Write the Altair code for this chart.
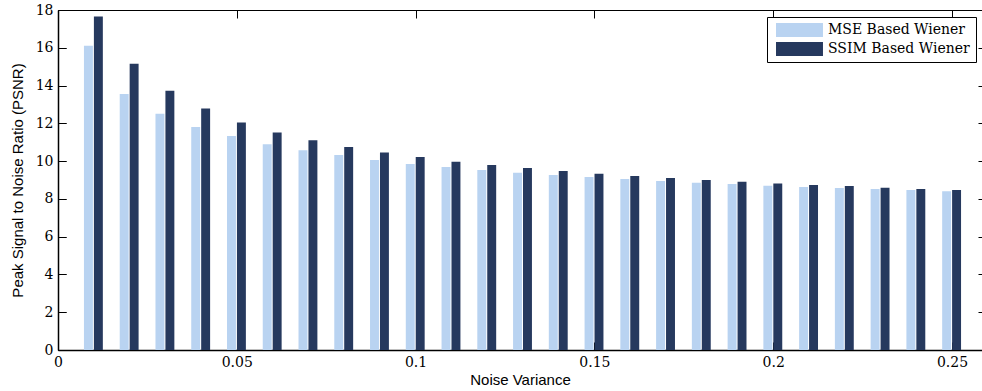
import altair as alt
import pandas as pd

noise_variance = [0.01, 0.02, 0.03, 0.04, 0.05, 0.06, 0.07, 0.08, 0.09, 0.10,
                  0.11, 0.12, 0.13, 0.14, 0.15, 0.16, 0.17, 0.18, 0.19, 0.20,
                  0.21, 0.22, 0.23, 0.24, 0.25]
mse_psnr = [16.11, 13.55, 12.51, 11.81, 11.33, 10.89, 10.57, 10.32, 10.06, 9.85,
            9.69, 9.53, 9.39, 9.26, 9.16, 9.05, 8.95, 8.86, 8.79, 8.70,
            8.63, 8.58, 8.52, 8.47, 8.40]
ssim_psnr = [17.66, 15.16, 13.73, 12.78, 12.05, 11.52, 11.10, 10.75, 10.45, 10.22,
             9.97, 9.79, 9.63, 9.48, 9.33, 9.21, 9.11, 9.00, 8.91, 8.82,
             8.73, 8.68, 8.59, 8.52, 8.47]
series_names = ["MSE Based Wiener", "SSIM Based Wiener"]
series_colors = ["#B9D3F1", "#26395E"]
x_ticks = [0, 0.05, 0.1, 0.15, 0.2, 0.25]
y_ticks = [0, 2, 4, 6, 8, 10, 12, 14, 16, 18]

rows = []
for nv, a, b in zip(noise_variance, mse_psnr, ssim_psnr):
    rows.append({"nv": nv, "psnr": a, "series": series_names[0]})
    rows.append({"nv": nv, "psnr": b, "series": series_names[1]})
df = pd.DataFrame(rows)

XMAX = 0.2584
W, H = 924, 340
SERIF = "DejaVu Serif"
SANS = "Liberation Sans"

xscale = alt.Scale(domain=[0, XMAX], nice=False, zero=False, padding=0)
yscale = alt.Scale(domain=[0, 18], nice=False, padding=0)

base = alt.Chart(df)

bars = base.transform_calculate(
    x0=f"datum.nv + (datum.series == '{series_names[0]}' ? -0.00274 : 0.00004)",
    x1="datum.x0 + 0.00250",
).mark_bar(clip=True, orient="vertical").encode(
    x=alt.X("x0:Q", scale=xscale,
            axis=alt.Axis(values=x_ticks, format="~g", ticks=False, grid=False,
                          domain=True, domainColor="black", domainWidth=1.5,
                          labelFont=SERIF, labelFontSize=14, labelColor="black",
                          labelPadding=5, labelFlush=False, title="Noise Variance",
                          titleFont=SANS, titleFontSize=15, titleFontWeight="normal",
                          titleColor="black", titlePadding=3, orient="bottom")),
    x2="x1:Q",
    y=alt.Y("psnr:Q", scale=yscale,
            axis=alt.Axis(values=y_ticks, ticks=False, grid=False,
                          domain=True, domainColor="black", domainWidth=1.5,
                          labelFont=SERIF, labelFontSize=14, labelColor="black",
                          labelPadding=5, labelFlush=False,
                          title="Peak Signal to Noise Ratio (PSNR)",
                          titleFont=SANS, titleFontSize=15, titleFontWeight="normal",
                          titleColor="black", titlePadding=10, orient="left")),
    y2=alt.datum(0),
    color=alt.Color("series:N",
                    scale=alt.Scale(domain=series_names, range=series_colors),
                    legend=alt.Legend(
                        title=None, orient="none", legendX=709, legendY=7,
                        fillColor="white", strokeColor="black", padding=6,
                        symbolType="M-0.57,-1H6.14V1H-0.57Z",
                        symbolSize=196, symbolStrokeWidth=0, symbolOpacity=1,
                        labelOffset=41, rowPadding=5,
                        labelFont=SERIF, labelFontSize=14, labelColor="black")),
)

def tick_layer(xaxis, yaxis):
    return base.mark_point(opacity=0).encode(
        x=alt.X("nv:Q", scale=xscale, axis=xaxis),
        y=alt.Y("psnr:Q", scale=yscale, axis=yaxis),
    )

tick_common = dict(labels=False, grid=False, domain=False, title=None,
                   ticks=True, tickColor="black", tickWidth=1)

inner_ticks = tick_layer(
    alt.Axis(orient="bottom", values=x_ticks, offset=-8, tickSize=8, **tick_common),
    alt.Axis(orient="left", values=y_ticks, offset=-8, tickSize=8, **tick_common),
)
top_frame = tick_layer(
    alt.Axis(orient="top", values=x_ticks, labels=False, ticks=False, grid=False,
             domain=True, domainColor="black", domainWidth=1, title=None),
    alt.Axis(orient="right", values=y_ticks, offset=-4, tickSize=4, **tick_common),
)
top_ticks = tick_layer(
    alt.Axis(orient="top", values=x_ticks, offset=-8, tickSize=8, **tick_common),
    alt.Axis(orient="left", values=y_ticks, offset=-8, tickSize=8, **tick_common),
)

chart = alt.layer(bars, inner_ticks, top_frame, top_ticks).resolve_axis(
    x="independent", y="independent"
).properties(
    width=W, height=H,
    autosize=alt.AutoSizeParams(type="none"),
    padding={"left": 58, "top": 10, "right": 0, "bottom": 41},
    background="white",
).configure_view(stroke="transparent")

chart.save("out.html", embed_options={"renderer": "svg", "actions": False})
